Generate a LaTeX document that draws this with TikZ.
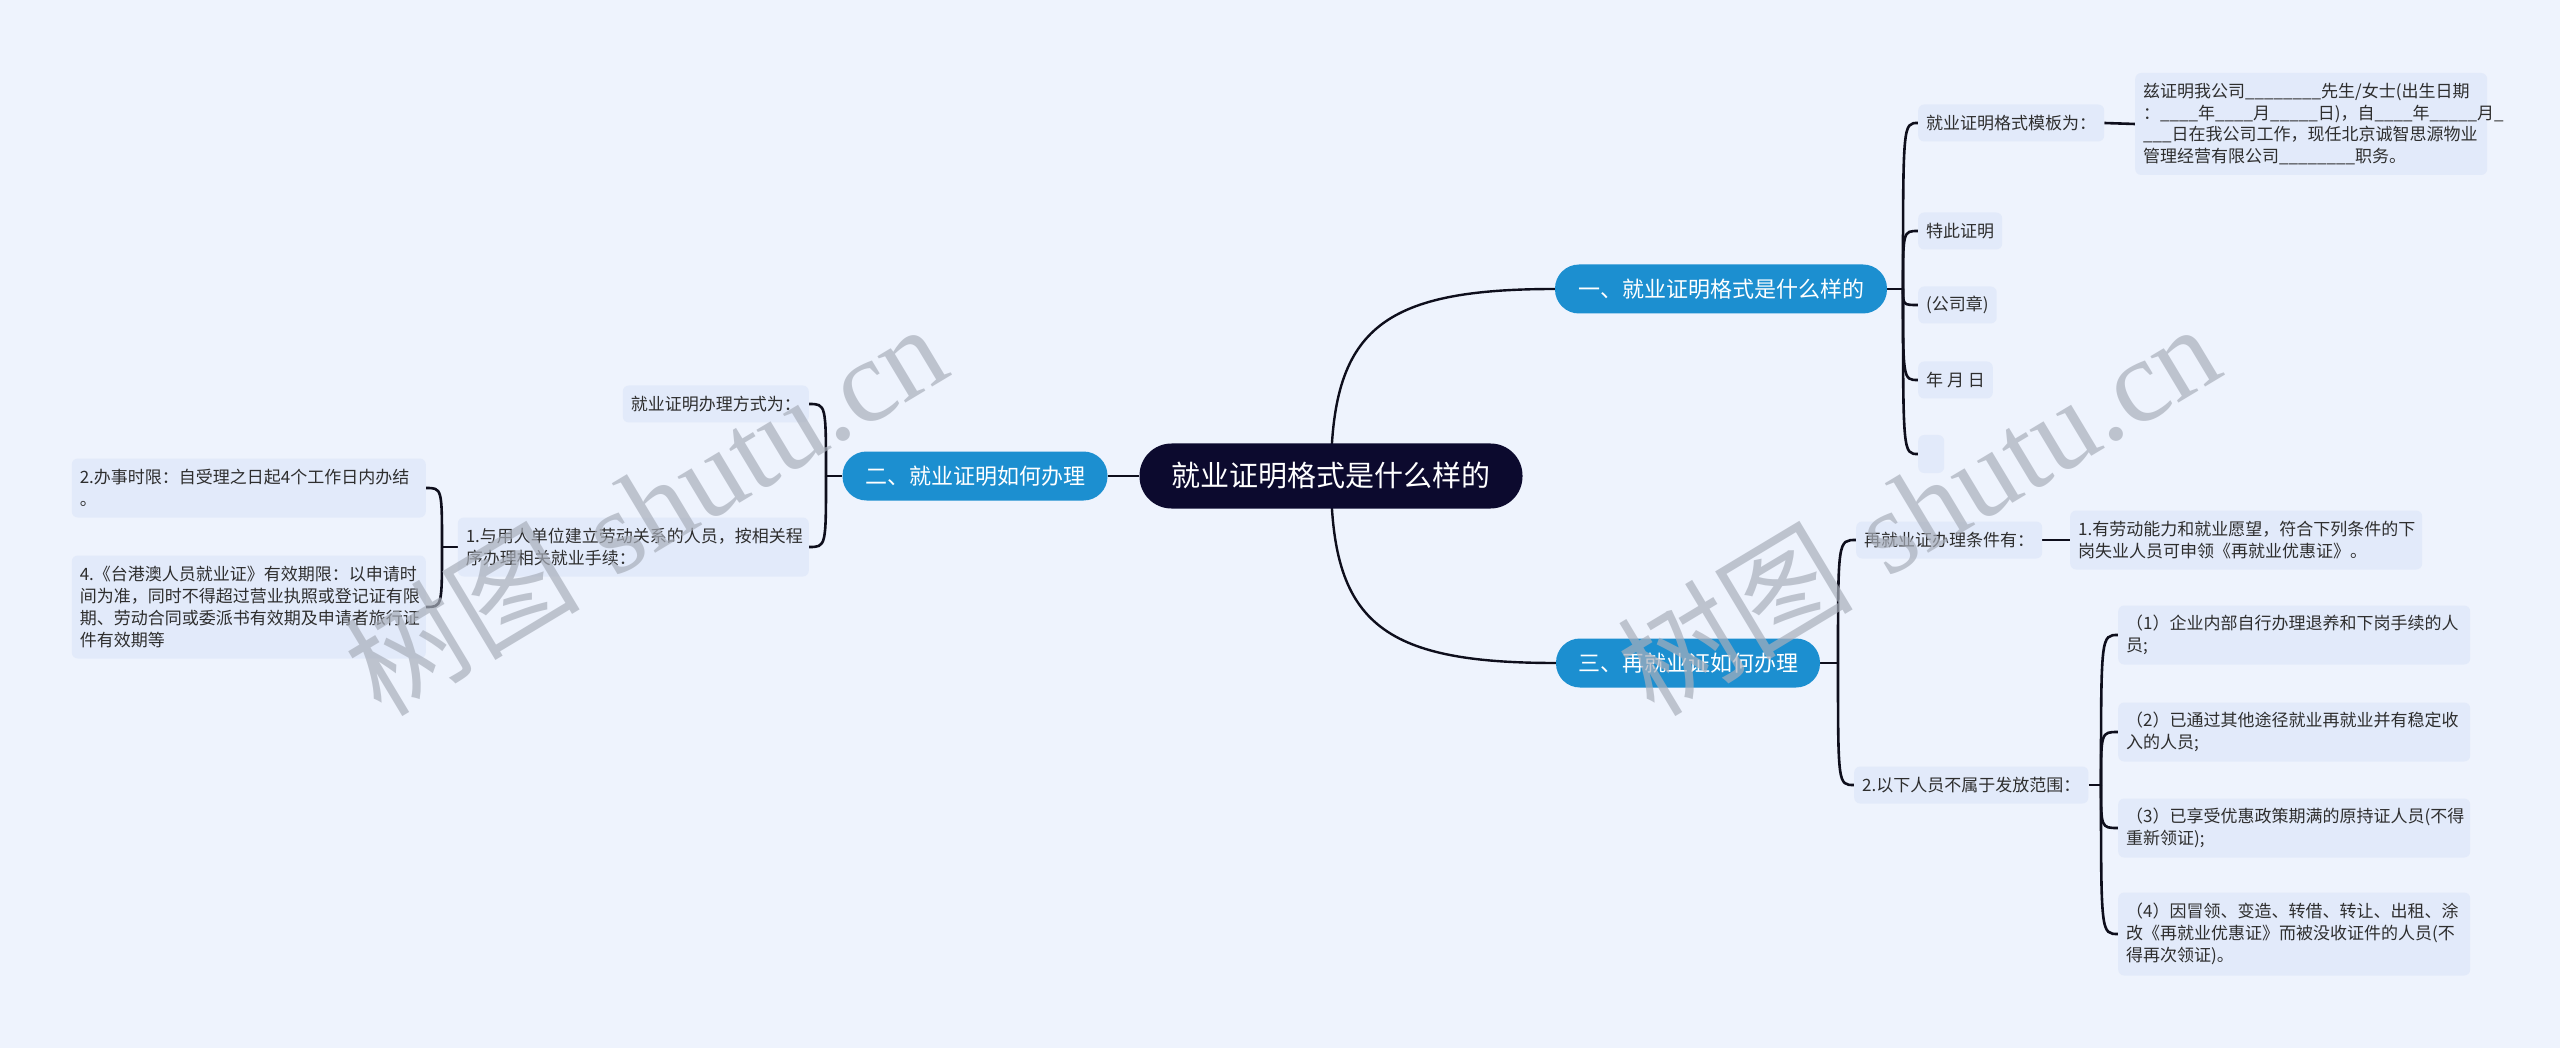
\documentclass[tikz,border=0pt]{standalone}
\usepackage{fontspec}
\newfontfamily\cjk{Noto Sans CJK SC}
\newfontfamily\wmserif{Liberation Serif}
\definecolor{bgc}{HTML}{EEF3FD}
\definecolor{leafc}{HTML}{E2EAFA}
\definecolor{bluec}{HTML}{1C8FD0}
\definecolor{rootc}{HTML}{0C0A2E}
\definecolor{linec}{HTML}{0E0E1C}
\definecolor{txtc}{HTML}{2E2E2E}
\definecolor{wmc}{HTML}{A9AFBB}
\pgfdeclarelayer{back}
\pgfdeclarelayer{edges}
\pgfsetlayers{back,edges,main}
\begin{document}
\begin{tikzpicture}[x=1pt,y=-1pt,
 leaf/.style={fill=leafc, rounded corners=6pt, inner xsep=8pt, inner ysep=4pt, minimum height=37pt, font=\fontsize{17}{21.7}\selectfont\cjk, text=txtc},
 multi/.style={leaf, align=left, text width=#1},
 topic/.style={fill=bluec, rounded corners=24pt, minimum height=49pt, font=\fontsize{22}{26}\selectfont\cjk, text=white, inner sep=0pt},
 root/.style={fill=rootc, rounded corners=32pt, minimum width=383pt, minimum height=65pt, font=\fontsize{29}{34}\selectfont\cjk, text=white, inner sep=0pt},
 conn/.style={draw=linec, line width=2.6pt},
 mainconn/.style={draw=linec, line width=2.4pt},
 wm/.style={text=wmc, text opacity=0.7, rotate=31, font=\fontsize{118}{128}\selectfont, inner sep=0pt}
]
\begin{pgfonlayer}{back}
\fill[bgc] (0,0) rectangle (2560,1048);
\end{pgfonlayer}
\useasboundingbox (0,0) rectangle (2560,1048);

% root and topics
\node[root] (c) at (1331,476) {就业证明格式是什么样的};
\node[topic, minimum width=332pt] (b1) at (1721,289) {一、就业证明格式是什么样的};
\node[topic, minimum width=265pt] (b2) at (975,476) {二、就业证明如何办理};
\node[topic, minimum width=264pt] (b3) at (1688,663) {三、再就业证如何办理};

% branch 1
\node[leaf, anchor=west] (mb) at (1918,123) {就业证明格式模板为：};
\node[multi=336pt, minimum height=102pt, anchor=west] (tpl) at (2135,124) {兹证明我公司\_\_\_\_\_\_\_\_先生/女士(出生日期\\：\_\_\_\_年\_\_\_\_月\_\_\_\_\_日)，自\_\_\_\_年\_\_\_\_\_月\_\\\_\_\_日在我公司工作，现任北京诚智思源物业\\管理经营有限公司\_\_\_\_\_\_\_\_职务。};
\node[leaf, anchor=west] (tc) at (1918,231) {特此证明};
\node[leaf, anchor=west] (gz) at (1918,305) {(公司章)};
\node[leaf, anchor=west] (nyr) at (1918,380) {年 月 日};
\node[leaf, anchor=west, minimum width=26pt, inner xsep=0pt, minimum height=38pt] (em) at (1918,454) {};

% branch 2
\node[leaf, anchor=east] (fs) at (809,404) {就业证明办理方式为：};
\node[multi=335pt, minimum height=59pt, anchor=east] (yr) at (809,547) {1.与用人单位建立劳动关系的人员，按相关程\\序办理相关就业手续：};
\node[multi=338pt, minimum height=59pt, anchor=east] (bs) at (426,488) {2.办事时限：自受理之日起4个工作日内办结\\。};
\node[multi=338pt, minimum height=103pt, anchor=east] (tg) at (426,607) {4.《台港澳人员就业证》有效期限：以申请时\\间为准，同时不得超过营业执照或登记证有限\\期、劳动合同或委派书有效期及申请者旅行证\\件有效期等};

% branch 3
\node[leaf, anchor=west] (tj) at (1856,540) {再就业证办理条件有：};
\node[multi=336pt, minimum height=59pt, anchor=west] (tj1) at (2070,540) {1.有劳动能力和就业愿望，符合下列条件的下\\岗失业人员可申领《再就业优惠证》。};
\node[leaf, anchor=west] (fw) at (1854,785) {2.以下人员不属于发放范围：};
\node[multi=336pt, minimum height=59pt, anchor=west] (f1) at (2118,635) {（1）企业内部自行办理退养和下岗手续的人\\员;};
\node[multi=336pt, minimum height=59pt, anchor=west] (f2) at (2118,732) {（2）已通过其他途径就业再就业并有稳定收\\入的人员;};
\node[multi=336pt, minimum height=59pt, anchor=west] (f3) at (2118,828) {（3）已享受优惠政策期满的原持证人员(不得\\重新领证);};
\node[multi=336pt, minimum height=83pt, anchor=west] (f4) at (2118,934) {（4）因冒领、变造、转借、转让、出租、涂\\改《再就业优惠证》而被没收证件的人员(不\\得再次领证)。};

% connectors
\begin{pgfonlayer}{edges}
\draw[mainconn] (c.center) .. controls (1331,330) and (1380,289) .. (b1.west);
\draw[mainconn] (c.center) .. controls (1331,622) and (1380,663) .. (b3.west);
\draw[mainconn] (c.west) -- (b2.east);

\coordinate (j1) at (1903,289);
\draw[conn] (b1.east) -- (j1);
\foreach \n in {mb,tc,gz,nyr,em} \draw[conn] (j1) .. controls (j1 |- \n.west) .. (\n.west);
\draw[conn] (mb.east) -- (tpl.west);

\coordinate (j2) at (826,476);
\draw[conn] (b2.west) -- (j2);
\foreach \n in {fs,yr} \draw[conn] (j2) .. controls (j2 |- \n.east) .. (\n.east);
\coordinate (j3) at (442,547);
\draw[conn] (yr.west) -- (j3);
\foreach \n in {bs,tg} \draw[conn] (j3) .. controls (j3 |- \n.east) .. (\n.east);

\coordinate (j4) at (1838,663);
\draw[conn] (b3.east) -- (j4);
\foreach \n in {tj,fw} \draw[conn] (j4) .. controls (j4 |- \n.west) .. (\n.west);
\draw[conn] (tj.east) -- (tj1.west);
\coordinate (j5) at (2101,785);
\draw[conn] (fw.east) -- (j5);
\foreach \n in {f1,f2,f3,f4} \draw[conn] (j5) .. controls (j5 |- \n.west) .. (\n.west);
\end{pgfonlayer}

% watermarks
\node[wm] (wm1) at (645,508) {{\cjk 树图} {\wmserif shutu.cn}};
\node[wm] (wm2) at (1918,508) {{\cjk 树图} {\wmserif shutu.cn}};
\end{tikzpicture}
\end{document}
